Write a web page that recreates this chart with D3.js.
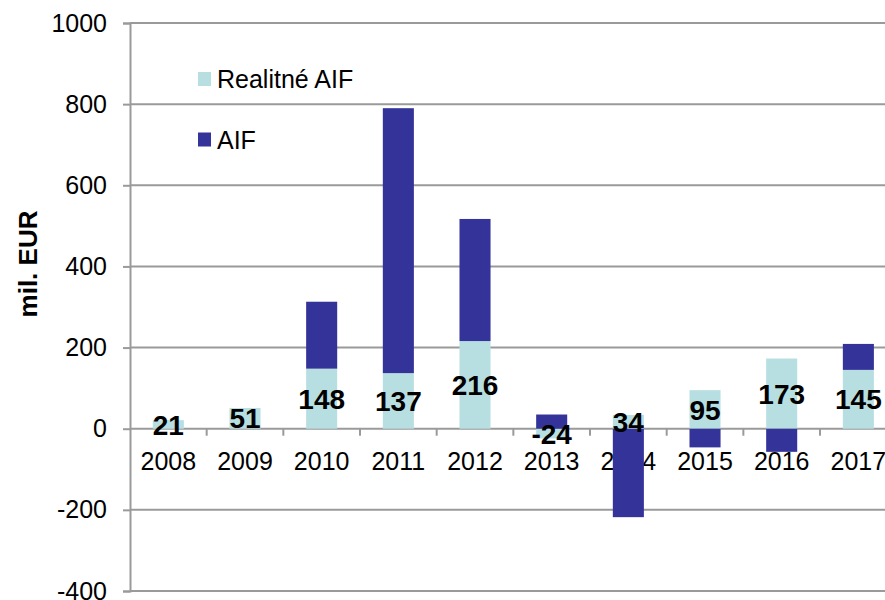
<!DOCTYPE html>
<html>
<head>
<meta charset="utf-8">
<script src="https://cdn.jsdelivr.net/npm/d3@7"></script>
<style>
  body { margin: 0; background: #fff; }
  text { font-family: "Liberation Sans", Arial, sans-serif; }
</style>
</head>
<body>
<div id="chart"></div>
<script>
// Data
var years = ["2008", "2009", "2010", "2011", "2012", "2013", "2014", "2015", "2016", "2017"];
var realitne = [21, 51, 148, 137, 216, -24, 34, 95, 173, 145];
var aif = [0, 0, 165, 653, 301, 35, -218, -46, -57, 64];
var yTicks = [-400, -200, 0, 200, 400, 600, 800, 1000];
var seriesNames = ["Realitné AIF", "AIF"];
var seriesColors = ["#b7dfe2", "#343399"];

var width = 885, height = 600;
var plotLeft = 130, plotTop = 23, plotBottom = 591;

var svg = d3.select("#chart")
  .append("svg")
    .attr("width", width)
    .attr("height", height);

// Scales
var x = d3.scaleBand()
  .domain(years)
  .range([plotLeft, plotLeft + 76.67 * years.length])
  .padding(0);

var y = d3.scaleLinear()
  .domain([-400, 1000])
  .range([plotBottom, plotTop]);

// Gridlines
svg.append("g")
  .selectAll("line")
  .data(yTicks)
  .enter()
  .append("line")
    .attr("x1", plotLeft)
    .attr("x2", width)
    .attr("y1", function(d) { return y(d); })
    .attr("y2", function(d) { return y(d); })
    .attr("stroke", "#9a9a9a")
    .attr("stroke-width", 2);

// Y axis
var yAxis = svg.append("g")
  .attr("transform", "translate(" + plotLeft + ",0)")
  .call(d3.axisLeft(y)
    .tickValues(yTicks)
    .tickFormat(function(d) { return String(d); })
    .tickSize(7)
    .tickPadding(16));
yAxis.select(".domain").attr("stroke", "#9a9a9a").attr("stroke-width", 2);
yAxis.selectAll(".tick line").attr("stroke", "#9a9a9a").attr("stroke-width", 2);
yAxis.selectAll(".tick text")
  .style("font-size", "25px")
  .attr("fill", "#000")
  .attr("font-family", "Liberation Sans, Arial, sans-serif");

// X ticks at category boundaries (on zero line)
svg.append("g")
  .selectAll("line")
  .data(years.slice(1))
  .enter()
  .append("line")
    .attr("x1", function(d) { return x(d); })
    .attr("x2", function(d) { return x(d); })
    .attr("y1", y(0))
    .attr("y2", y(0) + 7)
    .attr("stroke", "#9a9a9a")
    .attr("stroke-width", 2);

// X category labels
svg.append("g")
  .selectAll("text")
  .data(years)
  .enter()
  .append("text")
    .attr("x", function(d) { return x(d) + x.bandwidth() / 2; })
    .attr("y", 470)
    .attr("text-anchor", "middle")
    .style("font-size", "25px")
    .text(function(d) { return d; });

// Stack
var rows = years.map(function(yr, i) {
  return { year: yr, "Realitné AIF": realitne[i], "AIF": aif[i] };
});
var stacked = d3.stack()
  .keys(seriesNames)
  .offset(d3.stackOffsetDiverging)(rows);

var barW = x.bandwidth() * 0.405;

svg.append("g")
  .selectAll("g")
  .data(stacked)
  .enter()
  .append("g")
    .attr("fill", function(d, i) { return seriesColors[i]; })
  .selectAll("rect")
  .data(function(d) { return d; })
  .enter()
  .append("rect")
    .attr("x", function(d) { return x(d.data.year) + (x.bandwidth() - barW) / 2; })
    .attr("width", barW)
    .attr("y", function(d) { return y(Math.max(d[0], d[1])); })
    .attr("height", function(d) { return Math.abs(y(d[0]) - y(d[1])); });

// Data labels (Realitné AIF values, centred in their segment)
svg.append("g")
  .selectAll("text")
  .data(stacked[0])
  .enter()
  .append("text")
    .attr("x", function(d) { return x(d.data.year) + x.bandwidth() / 2; })
    .attr("y", function(d) { return y((d[0] + d[1]) / 2); })
    .attr("dy", "0.36em")
    .attr("text-anchor", "middle")
    .style("font-size", "28px")
    .style("font-weight", "bold")
    .text(function(d) { return d.data["Realitné AIF"]; });

// Y axis title
svg.append("text")
  .attr("transform", "translate(37," + 264 + ") rotate(-90)")
  .attr("text-anchor", "middle")
  .style("font-size", "26px")
  .style("font-weight", "bold")
  .text("mil. EUR");

// Legend
var legend = svg.append("g")
  .selectAll("g")
  .data(seriesNames)
  .enter()
  .append("g")
    .attr("transform", function(d, i) { return "translate(198," + (79 + i * 60.5) + ")"; });
legend.append("rect")
  .attr("x", 0)
  .attr("y", -7)
  .attr("width", 13)
  .attr("height", 14)
  .attr("fill", function(d, i) { return seriesColors[i]; });
legend.append("text")
  .attr("x", 19)
  .attr("dy", "0.36em")
  .style("font-size", "25px")
  .text(function(d) { return d; });
</script>
</body>
</html>
